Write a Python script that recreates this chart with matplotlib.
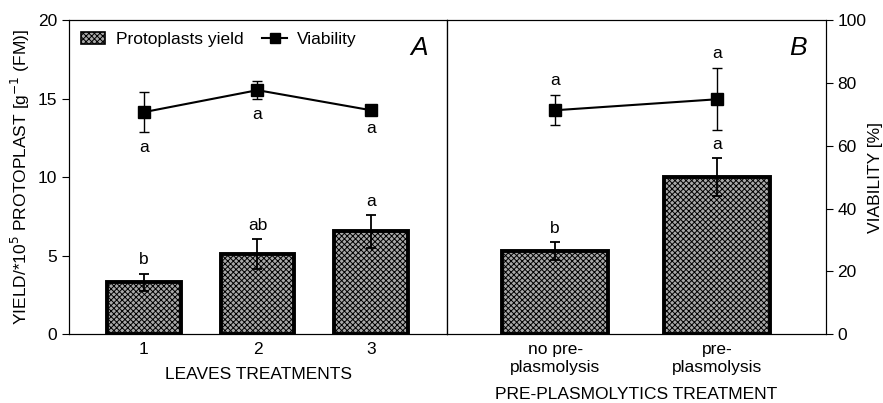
import matplotlib
matplotlib.use('Agg')
import matplotlib.pyplot as plt
from matplotlib.patches import Patch
from matplotlib.lines import Line2D

plt.rcParams['font.family'] = ['Liberation Sans', 'DejaVu Sans']
plt.rcParams['font.size'] = 12.5
plt.rcParams['hatch.linewidth'] = 0.7
plt.rcParams['hatch.color'] = '#1a1a1a'

# panel A data
leaves = ['1', '2', '3']
yield_a = [3.3, 5.1, 6.55]
yield_a_err = [0.55, 0.95, 1.05]
viab_a = [70.7, 77.7, 71.3]
viab_a_err = [6.3, 2.8, 0.8]
yield_a_letters = ['b', 'ab', 'a']
viab_a_letters = ['a', 'a', 'a']

# panel B data
plasmo = ['no pre-\nplasmolysis', 'pre-\nplasmolysis']
yield_b = [5.3, 10.0]
yield_b_err = [0.55, 1.2]
viab_b = [71.3, 74.8]
viab_b_err = [4.7, 9.8]
yield_b_letters = ['b', 'a']
viab_b_letters = ['a', 'a']

fig = plt.figure(figsize=(8.83, 4.03), dpi=100)
gs = fig.add_gridspec(1, 2, left=0.078, right=0.935, bottom=0.171, top=0.950, wspace=0)
axA = fig.add_subplot(gs[0])
axB = fig.add_subplot(gs[1], sharey=axA)

bar_fc = '#a8a8a8'
bar_kw = dict(width=0.65, facecolor=bar_fc, edgecolor='black', hatch='xxxxxx', linewidth=2.8, zorder=2)
err_kw = dict(fmt='none', ecolor='black', elinewidth=1.3, capsize=3.5, capthick=1.3, zorder=3)
line_kw = dict(color='black', marker='s', markersize=8, linewidth=1.5, zorder=4)

def panel(ax, labels, yv, ye, vv, ve, ylet, vlet, vlet_above, tag, xlim):
    x = list(range(1, len(labels) + 1))
    ax.bar(x, yv, **bar_kw)
    ax.errorbar(x, yv, yerr=ye, **err_kw)
    for xi, v, e, t in zip(x, yv, ye, ylet):
        ax.text(xi, v + e + 0.4, t, ha='center', va='bottom')
    ax.set_xlim(*xlim)
    ax.set_ylim(0, 20)
    ax.set_xticks(x)
    ax.set_xticklabels(labels)
    ax.tick_params(axis='x', length=0, pad=6)
    tw = ax.twinx()
    tw.set_ylim(0, 100)
    tw.errorbar(x, vv, yerr=ve, capsize=3.5, capthick=1, elinewidth=1, **line_kw)
    for xi, v, e, t in zip(x, vv, ve, vlet):
        if vlet_above:
            tw.text(xi, v + e + 2.5, t, ha='center', va='bottom')
        else:
            tw.text(xi, v - e - 2.5, t, ha='center', va='top')
    ax.text(0.95, 0.91, tag, transform=ax.transAxes, ha='right', va='center',
            fontsize=19, style='italic')
    return tw

twA = panel(axA, leaves, yield_a, yield_a_err, viab_a, viab_a_err,
            yield_a_letters, viab_a_letters, False, 'A', (0.34, 3.67))
twB = panel(axB, plasmo, yield_b, yield_b_err, viab_b, viab_b_err,
            yield_b_letters, viab_b_letters, True, 'B', (0.334, 2.67))

axA.set_yticks([0, 5, 10, 15, 20])
axA.tick_params(axis='y', direction='out', length=5)
axB.tick_params(axis='y', left=False, labelleft=False)
twA.set_yticks([])
twB.set_yticks([0, 20, 40, 60, 80, 100])
twB.tick_params(axis='y', direction='out', length=5)

axA.set_ylabel('YIELD/*10$^5$ PROTOPLAST [g$^{-1}$ (FM)]')
twB.set_ylabel('VIABILITY [%]', labelpad=1)
axA.set_xlabel('LEAVES TREATMENTS', labelpad=7)
axB.set_xlabel('PRE-PLASMOLYTICS TREATMENT', labelpad=9)

handles = [Patch(facecolor=bar_fc, edgecolor='black', hatch='xxxxxx', linewidth=1.2),
           Line2D([0], [0], color='black', marker='s', markersize=7, linewidth=1.5)]
axA.legend(handles, ['Protoplasts yield', 'Viability'], loc='upper left', ncol=2,
           frameon=False, handlelength=1.4, columnspacing=1.1,
           borderaxespad=0.3, handletextpad=0.6)

fig.savefig('out.png', dpi=100)
